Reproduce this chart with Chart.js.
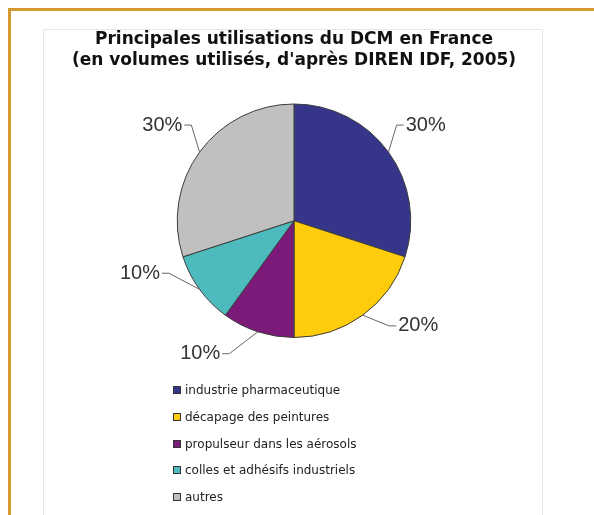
<!DOCTYPE html>
<html>
<head>
<meta charset="utf-8">
<script src="https://cdn.jsdelivr.net/npm/chart.js@4/dist/chart.umd.min.js"></script>
<style>
  html, body { margin: 0; padding: 0; background: #fff; }
  #wrap { position: relative; width: 594px; height: 515px; overflow: hidden; }
  #chart { position: absolute; left: 0; top: 0; }
  .gold-top { position: absolute; left: 8px; top: 8px; width: 600px; height: 3px; background: #d49a2e; }
  .gold-left { position: absolute; left: 8px; top: 8px; width: 3px; height: 520px; background: #d49a2e; }
  .frame { position: absolute; left: 43px; top: 29px; width: 498px; height: 500px;
           border: 1px solid #e6e6e6; border-bottom: none; }
  #legend { position: absolute; left: 173px; top: 377px; margin: 0; padding: 0; list-style: none;
            font: 12px "DejaVu Sans", sans-serif; color: #222; }
  #legend li { height: 26.7px; display: flex; align-items: center; }
  #legend .box { width: 6px; height: 6px; border: 1px solid #333; margin-right: 4px; }
</style>
</head>
<body>
<div id="wrap">
  <div class="frame"></div>
  <div class="gold-top"></div>
  <div class="gold-left"></div>
  <canvas id="chart" width="594" height="515"></canvas>
  <ul id="legend"></ul>
</div>
<script>
const categories = [
  'industrie pharmaceutique',
  'décapage des peintures',
  'propulseur dans les aérosols',
  'colles et adhésifs industriels',
  'autres'
];
const shares = [30, 20, 10, 10, 30];
const sliceColors = ['#35368a', '#fecc0a', '#7b1a78', '#4dbabe', '#c0c0c0'];

// labels outside the pie, joined by a small leader line
const outsideLabels = {
  id: 'outsideLabels',
  afterDatasetsDraw(chart) {
    const ctx = chart.ctx;
    const meta = chart.getDatasetMeta(0);
    const data = chart.data.datasets[0].data;
    const total = data.reduce((a, b) => a + b, 0);
    ctx.save();
    ctx.font = '20px "Liberation Sans", Arial, sans-serif';
    ctx.textBaseline = 'middle';
    meta.data.forEach((arc, i) => {
      const p = arc.getProps(['x', 'y', 'startAngle', 'endAngle', 'outerRadius'], true);
      const mid = (p.startAngle + p.endAngle) / 2;
      let a = mid;
      // keep the lower labels clear of the legend: pull them toward the horizontal
      if (Math.sin(mid) > 0.2) {
        a += Math.cos(mid) >= 0 ? -0.24 : 0.3;
      }
      const dist = p.outerRadius + 46;
      const lx = p.x + dist * Math.cos(a);
      const ly = p.y + dist * Math.sin(a);
      const text = Math.round(data[i] / total * 100) + '%';
      const w = ctx.measureText(text).width;
      const side = Math.cos(a) >= 0 ? 1 : -1;
      const nearX = lx - side * w / 2;

      ctx.strokeStyle = '#666';
      ctx.lineWidth = 1;
      ctx.beginPath();
      ctx.moveTo(p.x + p.outerRadius * Math.cos(mid), p.y + p.outerRadius * Math.sin(mid));
      ctx.lineTo(nearX - side * 9, ly);
      ctx.lineTo(nearX - side * 2, ly);
      ctx.stroke();

      ctx.fillStyle = '#333';
      ctx.textAlign = 'center';
      ctx.fillText(text, lx, ly);
    });
    ctx.restore();
  }
};

const chart = new Chart(document.getElementById('chart'), {
  type: 'pie',
  data: {
    labels: categories,
    datasets: [{
      data: shares,
      backgroundColor: sliceColors,
      borderColor: '#3c3c3c',
      borderWidth: 1
    }]
  },
  options: {
    responsive: false,
    animation: false,
    layout: { padding: { left: 0, right: 6, top: 0, bottom: 177 } },
    plugins: {
      legend: { display: false },
      tooltip: { enabled: false },
      title: {
        display: true,
        text: ['Principales utilisations du DCM en France',
               "(en volumes utilisés, d'après DIREN IDF, 2005)"],
        color: '#111',
        font: { family: '"DejaVu Sans", sans-serif', size: 17, weight: 'bold', lineHeight: 1.25 },
        padding: { top: 29, bottom: 32 }
      }
    }
  },
  plugins: [outsideLabels]
});

// HTML legend, one item per line as in the original
const legendList = document.getElementById('legend');
chart.options.plugins.legend.labels.generateLabels(chart).forEach(item => {
  const li = document.createElement('li');
  const box = document.createElement('span');
  box.className = 'box';
  box.style.background = item.fillStyle;
  li.appendChild(box);
  li.appendChild(document.createTextNode(item.text));
  legendList.appendChild(li);
});
</script>
</body>
</html>
